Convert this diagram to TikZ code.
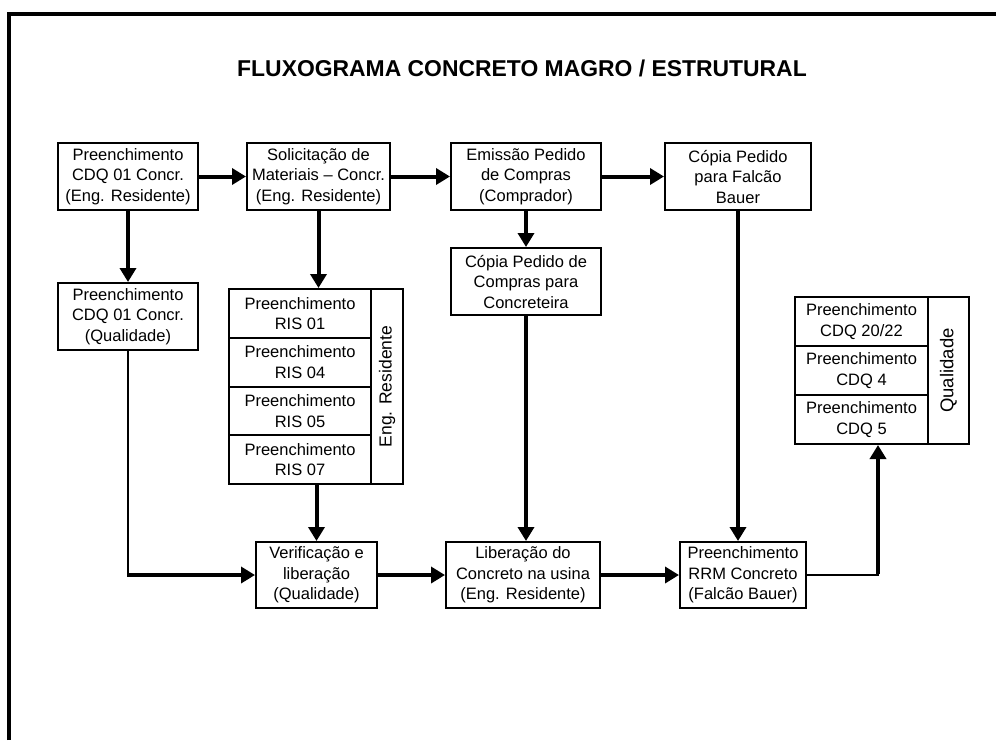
\documentclass[tikz,border=0pt]{standalone}
\usepackage{fontspec}
\setmainfont{Liberation Sans}
\usetikzlibrary{arrows.meta}

\tikzset{
  box/.style={draw, line width=2pt, align=center, inner sep=0pt,
    font=\fontsize{16.5}{20.5}\selectfont},
  cell/.style={box, minimum width=142pt, minimum height=48.75pt},
  qcell/.style={box, minimum width=133pt, minimum height=49pt},
  sidelabel/.style={box, font=\fontsize{17.5}{20.5}\selectfont},
  flow/.style={line width=4pt, -{Triangle[length=14pt,width=16pt]}},
  thinlink/.style={line width=2pt},
  titlefont/.style={font=\fontsize{22.9}{27}\selectfont\bfseries}
}

\begin{document}
\begin{tikzpicture}[x=1pt, y=-1pt]
\useasboundingbox (0,0) rectangle (996,740);

% outer frame (left and top edges)
\draw[line width=4pt] (9,740) -- (9,14) -- (996,14);

% title
\node[titlefont] (title) at (522,68) {FLUXOGRAMA CONCRETO MAGRO / ESTRUTURAL};

% top row
\node[box, minimum width=140pt, minimum height=67pt] (A) at (128,176.5)
  {Preenchimento\\CDQ 01 Concr.\\(Eng. Residente)};
\node[box, minimum width=143pt, minimum height=67pt] (B) at (318.5,176.5)
  {Solicitação de\\Materiais – Concr.\\(Eng. Residente)};
\node[box, minimum width=150pt, minimum height=67pt] (C) at (526,176.5)
  {Emissão Pedido\\de Compras\\(Comprador)};
\node[box, minimum width=146pt, minimum height=67pt] (D) at (738,176.5)
  {Cópia Pedido\\para Falcão\\Bauer};

% second level
\node[box, minimum width=140pt, minimum height=67pt] (F) at (128,316.5)
  {Preenchimento\\CDQ 01 Concr.\\(Qualidade)};
\node[box, minimum width=150pt, minimum height=67pt] (E) at (526,281.5)
  {Cópia Pedido de\\Compras para\\Concreteira};

% RIS group (Eng. Residente)
\node[box, minimum width=174pt, minimum height=195pt] (risgrp) at (316,386.5) {};
\node[cell] (ris1) at (300,313.375) {Preenchimento\\RIS 01};
\node[cell] (ris4) at (300,362.125) {Preenchimento\\RIS 04};
\node[cell] (ris5) at (300,410.875) {Preenchimento\\RIS 05};
\node[cell] (ris7) at (300,459.625) {Preenchimento\\RIS 07};
\node[sidelabel, minimum width=32pt, minimum height=195pt] (risside) at (387,386.5)
  {\rotatebox{90}{Eng. Residente}};

% CDQ group (Qualidade)
\node[box, minimum width=174pt, minimum height=147pt] (qgrp) at (882,370.5) {};
\node[qcell] (cdq20) at (861.5,321.5) {Preenchimento\\CDQ 20/22};
\node[qcell] (cdq4) at (861.5,370.5) {Preenchimento\\CDQ 4};
\node[qcell] (cdq5) at (861.5,419.5) {Preenchimento\\CDQ 5};
\node[sidelabel, minimum width=41pt, minimum height=147pt, font=\fontsize{18.5}{20.5}\selectfont] (qside) at (948.5,370.5)
  {\rotatebox{90}{Qualidade}};

% bottom row
\node[box, minimum width=121pt, minimum height=66pt] (V) at (316.5,575)
  {Verificação e\\liberação\\(Qualidade)};
\node[box, minimum width=154pt, minimum height=66pt] (L) at (523,575)
  {Liberação do\\Concreto na usina\\(Eng. Residente)};
\node[box, minimum width=126pt, minimum height=66pt] (R) at (743,575)
  {Preenchimento\\RRM Concreto\\(Falcão Bauer)};

% connectors
\draw[flow] (A) -- (B);
\draw[flow] (B) -- (C);
\draw[flow] (C) -- (D);
\draw[flow] (A) -- (F);
\draw[flow] (B.south) -- (B.south |- risgrp.north);
\draw[flow] (C) -- (E);
\draw[flow] (V.north |- risgrp.south) -- (V.north);
\draw[flow] (E.south) -- (E.south |- L.north);
\draw[flow] (D.south) -- (D.south |- R.north);
\draw[flow] (V) -- (L);
\draw[flow] (L) -- (R);

% Qualidade branch from CDQ 01 into the check
\coordinate (fcorner) at (F.south |- V.west);
\draw[thinlink] (F.south) -- (fcorner);
\draw[flow] ([xshift=-1pt]fcorner) -- (V.west);

% RRM out to the CDQ group
\coordinate (qcorner) at (878,575);
\draw[thinlink] (R.east) -- ([xshift=1pt]qcorner);
\draw[flow] ([yshift=1pt]qcorner) -- (qcorner |- qgrp.south);
\end{tikzpicture}
\end{document}
